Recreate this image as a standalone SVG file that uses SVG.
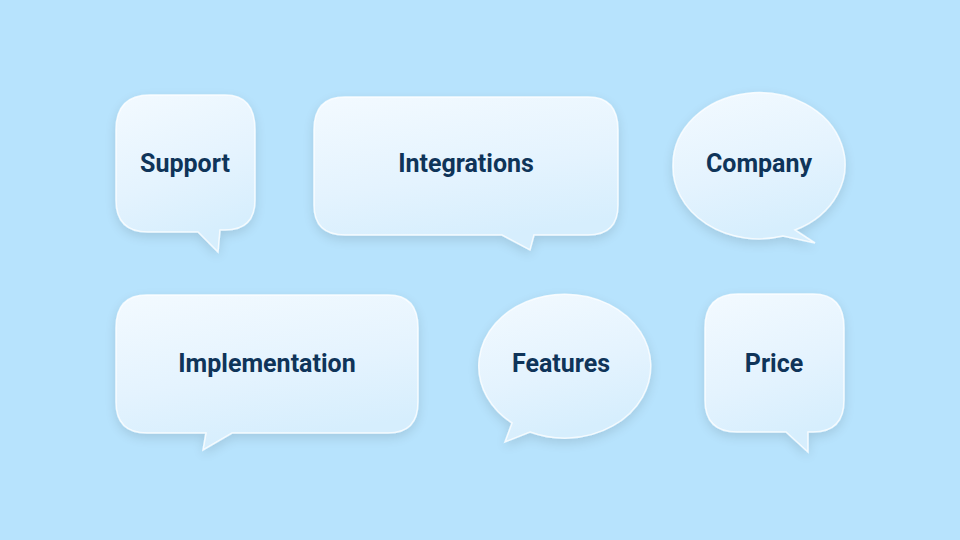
<svg xmlns="http://www.w3.org/2000/svg" width="960" height="540" viewBox="0 0 960 540">
<defs>
<linearGradient id="g" x1="0" y1="0" x2="0.3" y2="1">
<stop offset="0" stop-color="#f3faff"/><stop offset="0.6" stop-color="#e4f3fe"/><stop offset="1" stop-color="#d6eefd"/>
</linearGradient>
<filter id="sh" x="-20%" y="-20%" width="140%" height="140%"><feGaussianBlur in="SourceAlpha" stdDeviation="6"/><feOffset dy="4"/><feComponentTransfer><feFuncA type="linear" slope="0.12"/></feComponentTransfer><feMerge><feMergeNode/><feMergeNode in="SourceGraphic"/></feMerge></filter>
</defs>
<style>
.b{fill:url(#g);stroke:#ffffff;stroke-opacity:0.8;stroke-width:1.5;filter:url(#sh)}
.t{font-family:Roboto,"Liberation Sans",sans-serif;font-weight:bold;font-size:25px;fill:#0f3459;text-anchor:middle}
</style>
<rect width="960" height="540" fill="#b7e3fd"/>
<g id="connectors"/>
<g id="support"><path class="b" d="M150 95 H225 Q255 95 255 130 V200 Q255 230 225 230 L220 230 L218 252 L198 232 H148 Q116 232 116 200 V130 Q116 95 150 95 Z"/><text class="t" x="185" y="172">Support</text></g>
<g id="integrations"><path class="b" d="M345 97 H588 Q618 97 618 130 V205 Q618 235 588 235 H534 L530 250 L502 235 H345 Q314 235 314 205 V130 Q314 97 345 97 Z"/><text class="t" x="466" y="172">Integrations</text></g>
<g id="company"><path class="b" d="M673 165 A86 72 0 1 1 795 230 L815 243 L783 236 A86 72 0 0 1 673 165 Z"/><text class="t" x="759" y="172">Company</text></g>
<g id="implementation"><path class="b" d="M147 295 H388 Q418 295 418 328 V402 Q418 433 388 433 H232 L203 450 L206 433 H147 Q116 433 116 402 V328 Q116 295 147 295 Z"/><text class="t" x="267" y="372">Implementation</text></g>
<g id="features"><path class="b" d="M512 423 L505 442 L530 432 A86 72 0 1 0 512 423 Z"/><text class="t" x="561" y="372">Features</text></g>
<g id="price"><path class="b" d="M738 294 H813 Q844 294 844 328 V400 Q844 432 813 432 H808 L808 452 L786 432 H737 Q705 432 705 400 V328 Q705 294 738 294 Z"/><text class="t" x="774" y="372">Price</text></g>
</svg>
